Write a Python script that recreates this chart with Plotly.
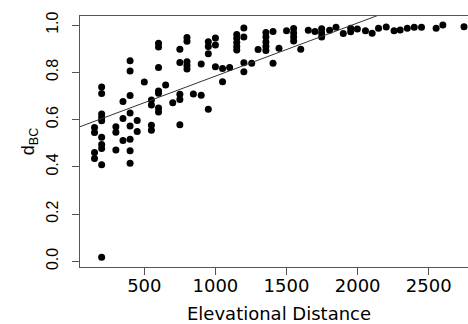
import plotly.graph_objects as go

# Elevational distance (x) and Bray-Curtis dissimilarity d_BC (y)
elev = [150, 150, 150, 150,
        200, 200, 200, 200, 200, 200, 200, 200, 200, 200,
        300, 300, 300,
        350, 350, 350,
        400, 400, 400, 400, 400, 400, 400, 400,
        450, 450,
        500,
        550, 550, 550, 550,
        600, 600, 600, 600, 600, 600, 600,
        650, 700,
        750, 750, 750, 750, 750,
        800, 800, 800, 800, 800,
        845,
        900, 900,
        950, 950, 950, 950,
        1000, 1000, 1000,
        1050, 1050,
        1100,
        1150, 1150, 1150, 1150, 1150,
        1200, 1200, 1200, 1200,
        1255, 1300,
        1355, 1355, 1355, 1355, 1355,
        1405, 1405,
        1447, 1500,
        1550, 1550, 1550, 1550,
        1600, 1653, 1700,
        1747, 1747, 1747,
        1803, 1848, 1899,
        1951, 1951,
        1998, 2055, 2102, 2147, 2201, 2256, 2299, 2349, 2398, 2449,
        2552, 2599, 2748]
dbc = [0.566, 0.545, 0.461, 0.435,
       0.738, 0.710, 0.624, 0.609, 0.595, 0.525, 0.494, 0.478, 0.409, 0.017,
       0.570, 0.546, 0.471,
       0.677, 0.605, 0.511,
       0.849, 0.806, 0.702, 0.628, 0.573, 0.517, 0.468, 0.415,
       0.596, 0.550,
       0.759,
       0.683, 0.662, 0.576, 0.555,
       0.923, 0.907, 0.820, 0.721, 0.711, 0.649, 0.632,
       0.746, 0.671,
       0.898, 0.842, 0.707, 0.685, 0.578,
       0.948, 0.932, 0.845, 0.829, 0.814,
       0.708,
       0.835, 0.703,
       0.930, 0.909, 0.879, 0.644,
       0.945, 0.916, 0.824,
       0.816, 0.760,
       0.820,
       0.960, 0.944, 0.926, 0.909, 0.895,
       0.988, 0.950, 0.841, 0.803,
       0.838, 0.897,
       0.969, 0.950, 0.928, 0.909, 0.892,
       0.973, 0.838,
       0.902, 0.976,
       0.986, 0.967, 0.950, 0.933,
       0.898, 0.978, 0.973,
       0.985, 0.967, 0.950,
       0.978, 0.991, 0.964,
       0.987, 0.972,
       0.983, 0.976, 0.965, 0.987, 0.992, 0.976, 0.979, 0.987, 0.991, 0.991,
       0.987, 1.000, 0.993]

# Fitted regression line
fit_intercept = 0.559
fit_slope = 0.000225
fit_x = [0, 3000]
fit_y = [fit_intercept + fit_slope * v for v in fit_x]

x_ticks = [500, 1000, 1500, 2000, 2500]
y_ticks = [0.0, 0.2, 0.4, 0.6, 0.8, 1.0]
y_tick_text = ["0.0", "0.2", "0.4", "0.6", "0.8", "1.0"]

axis_col = "#555555"

fig = go.Figure()
fig.add_trace(go.Scatter(x=elev, y=dbc, mode="markers",
                         marker=dict(color="black", size=7, line=dict(width=0)),
                         showlegend=False))
fig.add_trace(go.Scatter(x=fit_x, y=fit_y, mode="lines",
                         line=dict(color="#333333", width=1), showlegend=False))

fig.update_layout(
    width=468, height=324,
    margin=dict(l=80, r=0, t=16, b=57),
    plot_bgcolor="white", paper_bgcolor="white",
    font=dict(family="DejaVu Sans", color="black"),
    xaxis=dict(range=[47.8, 2776], tickvals=x_ticks, showgrid=False, zeroline=False,
               showline=True, linecolor=axis_col, linewidth=1, mirror=True,
               ticks="outside", ticklen=7, tickcolor=axis_col, tickwidth=1,
               tickfont=dict(size=18, family="DejaVu Sans"), ticklabelstandoff=-5),
    yaxis=dict(range=[-0.0241, 1.0385], tickvals=y_ticks, ticktext=y_tick_text,
               showgrid=False, zeroline=False,
               showline=True, linecolor=axis_col, linewidth=1, mirror=False,
               ticks="outside", ticklen=7, tickcolor=axis_col, tickwidth=1,
               tickangle=-90, tickfont=dict(size=16, family="Liberation Sans"),
               ticklabelstandoff=8,
               title=dict(text="d<sub>BC</sub>", font=dict(size=18, family="Liberation Sans"),
                          standoff=4)),
    annotations=[dict(text="Elevational Distance", xref="paper", yref="paper",
                      x=0.514, y=0, yshift=-46, xanchor="center", yanchor="middle",
                      showarrow=False, font=dict(size=18, family="DejaVu Sans"))],
)

fig.write_html("out.html")
